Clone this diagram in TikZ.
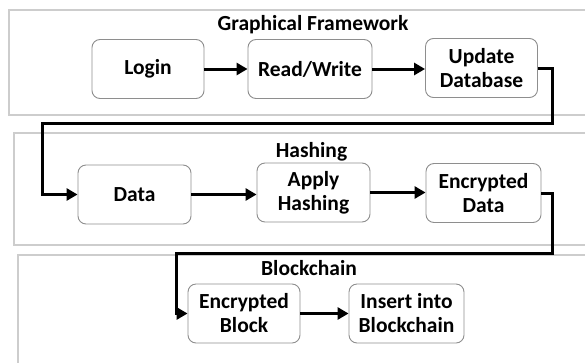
\documentclass[tikz,border=0pt]{standalone}
\usepackage{fontspec}
\setmainfont{Carlito}
\usepackage{tikz}
\usetikzlibrary{arrows.meta}
\definecolor{boxgray}{HTML}{8E8E8E}
\definecolor{panelgray}{HTML}{CDCDCD}

\begin{document}
\begin{tikzpicture}
            [x=1pt,y=-1pt,
             box/.style={draw=boxgray,line width=0.9pt,rounded corners=8pt,fill=white,
                         minimum width=112pt,minimum height=59pt,align=center,inner sep=2pt,
                         font=\fontsize{21.5}{24}\selectfont\bfseries},
             title/.style={anchor=base,inner sep=0pt,font=\fontsize{21.5}{24}\selectfont\bfseries},
             flow/.style={line width=3pt,-{Triangle[length=11pt,width=12pt]}},
             panel/.style={draw=panelgray,line width=1.3pt}]
            \useasboundingbox (0,0) rectangle (585,362);
            \clip (0,0) rectangle (585,362);

            % panels
            \draw[panel] (600,10) -- (9,10) -- (9,115) -- (600,115);
            \draw[panel] (600,133) -- (14,133) -- (14,245) -- (600,245);
            \draw[panel] (600,255) -- (18,255) -- (18,370);

            \node[title] (t1) at (313,30) {Graphical Framework};
            \node[title] (t2) at (311.5,157) {Hashing};
            \node[title] (t3) at (309,275) {Blockchain};

            \node[box] (1) at (148,69) {Login};
            \node[box,minimum width=124pt] (2) at (310,69) {Read/Write};
            \node[box] (3) at (481.5,68) {Update\\Database};
            \node[box,minimum width=113pt] (4) at (134.5,194.5) {Data};
            \node[box,minimum width=113pt] (5) at (313.5,192.5) {Apply\\Hashing};
            \node[box,minimum width=115pt] (6) at (483.5,193) {Encrypted\\Data};
            \node[box] (7) at (244,313.5) {Encrypted\\Block};
            \node[box,minimum width=115pt] (8) at (406.5,313.5) {Insert into\\Blockchain};

            \coordinate (b1) at (552,123);
            \coordinate (b2) at (42,123);
            \coordinate (b3) at (552,253);
            \coordinate (b4) at (176,253);

            \draw[flow] (1) -- (2);
            \draw[flow] (2) -- (3.west |- 2);
            \draw[flow] (3.east) -| (b1) -- (b2) |- (4.west);

            \draw[flow] (4) -- (5.west |- 4);
            \draw[flow] (5) -- (6.west |- 5);
            \draw[flow] (6.east) -| (b3) -- (b4) |- (7.west);

            \draw[flow] (7) -- (8);

        \end{tikzpicture}
\end{document}
